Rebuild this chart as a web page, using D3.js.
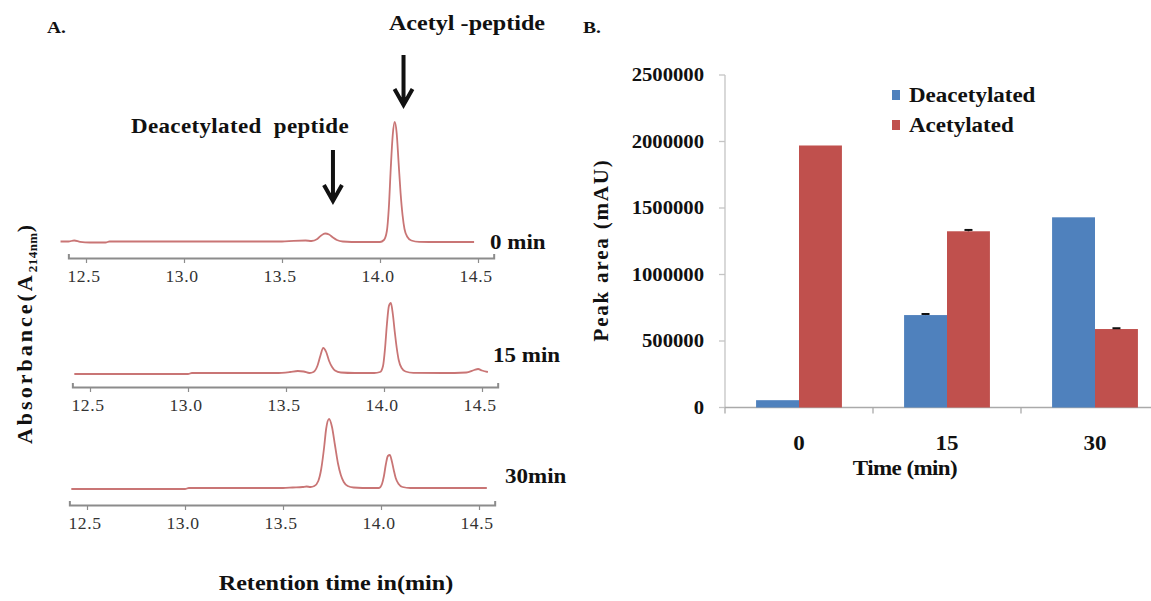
<!DOCTYPE html>
<html>
<head>
<meta charset="utf-8">
<script src="https://cdn.jsdelivr.net/npm/d3@7"></script>
<style>
  body { margin: 0; background: #fff; }
  svg { display: block; }
  text { font-family: "Liberation Serif", "Times New Roman", serif; }
</style>
</head>
<body>
<svg id="fig" width="1151" height="601"></svg>
<script>
// ---------- Panel A: HPLC chromatograms (retention time, absorbance) ----------
const retentionTicks = [12.5, 13.0, 13.5, 14.0, 14.5];
const sampleLabels = ["0 min", "15 min", "30min"];

const trace0min = [
  [12.37, 1.5], [12.41, 1.5], [12.44, 2.5], [12.47, 1.2], [12.52, 0.5], [12.60, 0.5], [12.62, 1.5],
  [13.50, 1.5], [13.56, 2.2], [13.62, 2.5], [13.65, 2], [13.68, 4], [13.70, 7.5], [13.72, 9.5],
  [13.74, 8.5], [13.76, 5.5], [13.78, 3], [13.81, 1.5], [13.90, 1], [14.00, 1], [14.02, 3],
  [14.035, 12], [14.045, 35], [14.055, 75], [14.065, 108], [14.075, 121], [14.085, 110],
  [14.095, 80], [14.105, 50], [14.115, 28], [14.125, 14], [14.14, 6], [14.16, 2.5], [14.20, 1.2],
  [14.30, 1], [14.48, 1]
];
const trace15min = [
  [12.42, 0], [13.00, 0], [13.02, 1], [13.45, 1], [13.52, 2], [13.56, 3], [13.59, 2.5], [13.62, 1],
  [13.64, 2], [13.66, 8], [13.675, 18], [13.69, 26], [13.705, 22], [13.72, 13], [13.735, 7],
  [13.75, 3.5], [13.78, 1.5], [13.85, 1], [13.95, 1], [13.98, 2], [13.995, 8], [14.005, 25],
  [14.015, 50], [14.025, 68], [14.035, 71], [14.045, 60], [14.055, 42], [14.065, 26], [14.075, 14],
  [14.09, 6], [14.11, 2.5], [14.15, 1.2], [14.30, 1], [14.42, 1.5], [14.46, 4], [14.48, 5],
  [14.50, 3.5], [14.53, 2]
];
const trace30min = [
  [12.42, 0], [13.00, 0], [13.02, 1], [13.50, 1], [13.55, 1.5], [13.60, 2], [13.62, 2.5], [13.64, 2],
  [13.66, 3], [13.68, 8], [13.695, 20], [13.71, 42], [13.72, 60], [13.735, 70], [13.75, 62],
  [13.765, 44], [13.78, 26], [13.795, 14], [13.81, 7], [13.83, 3], [13.86, 1.5], [13.95, 1],
  [13.99, 1], [14.005, 5], [14.015, 13], [14.025, 25], [14.035, 33], [14.045, 34], [14.055, 28],
  [14.065, 19], [14.075, 11], [14.09, 5], [14.11, 2], [14.15, 1], [14.54, 1]
];
const peakNotes = ["Deacetylated  peptide", "Acetyl -peptide"];
const peakNoteTimes = [13.76, 14.12];

// ---------- Panel B: peak areas ----------
const timepoints = ["0", "15", "30"];
const seriesNames = ["Deacetylated", "Acetylated"];
const deacetylatedArea = [55000, 695000, 1430000];
const acetylatedArea = [1970000, 1325000, 590000];
const deacetylatedErr = [0, 8000, 0];
const acetylatedErr = [0, 10000, 6000];
const areaTicks = [0, 500000, 1000000, 1500000, 2000000, 2500000];

const svg = d3.select("#fig");
svg.append("rect").attr("width", 1151).attr("height", 601).attr("fill", "#fff");

// text helper: serif glyphs drawn slightly wide
function label(g, s, x, y, o = {}) {
  const t = g.append("text")
    .attr("transform", `translate(${x},${y}) rotate(${o.rot || 0}) scale(${o.sx || 1.15},1)`)
    .attr("text-anchor", o.anchor || "start")
    .attr("font-size", o.size || 20)
    .attr("font-weight", o.weight || "bold")
    .attr("fill", o.fill || "#111")
    .text(s);
  if (o.ls) t.attr("letter-spacing", o.ls);
  return t;
}

// ================= Panel A =================
const gA = svg.append("g");
const traces = [trace0min, trace15min, trace30min];
const panelsA = [
  { base: 243, axisY: 258, x0: 86, lx: 490, ly: 249 },
  { base: 374, axisY: 387, x0: 90, lx: 493, ly: 362 },
  { base: 489, axisY: 505, x0: 87, lx: 505, ly: 483 }
];
const minorTicks = d3.range(124, 146).map(d => d / 10).filter(d => !retentionTicks.includes(d));
let firstX = null;

panelsA.forEach((p, i) => {
  const x = d3.scaleLinear().domain([12.5, 14.5]).range([p.x0, p.x0 + 392]);
  const y = d3.scaleLinear().domain([0, 130]).range([p.base, p.base - 130]);
  if (i === 0) firstX = x;

  const line = d3.line().x(d => x(d[0])).y(d => y(d[1])).curve(d3.curveMonotoneX);
  gA.append("path").datum(traces[i]).attr("d", line)
    .attr("fill", "none").attr("stroke", "#c97575").attr("stroke-width", 1.8);

  const xa = x.copy().domain([12.41, 14.58]).range([x(12.41), x(14.58)]);
  const gAx = gA.append("g").attr("transform", `translate(0,${p.axisY})`);
  gAx.call(d3.axisBottom(xa).tickValues(minorTicks).tickSize(3).tickSizeOuter(-4).tickFormat(""));
  gAx.call(d3.axisBottom(xa).tickValues(retentionTicks).tickSize(5).tickSizeOuter(-4).tickFormat(() => ""));
  gAx.selectAll("path.domain").attr("stroke", "#8c8c8c").attr("stroke-width", 2);
  gAx.selectAll(".tick line").attr("stroke", "#8c8c8c").attr("stroke-width", 1.2);

  retentionTicks.forEach(t => {
    label(gA, d3.format(".1f")(t), x(t) - 2, p.axisY + 24,
      { anchor: "middle", size: 16, weight: "normal", fill: "#333", sx: 1.1, ls: 0.5 });
  });

  label(gA, sampleLabels[i], p.lx, p.ly, { size: 20 });
});

// peak annotations with arrows
const arrowTops = [[150, 201], [55, 105]];
peakNoteTimes.forEach((t, k) => {
  const ax = firstX(t);
  const [y0, y1] = arrowTops[k];
  gA.append("path")
    .attr("d", `M${ax},${y0}V${y1 - 2}M${ax - 9},${y1 - 16}L${ax},${y1}L${ax + 9},${y1 - 16}`)
    .attr("fill", "none").attr("stroke", "#111").attr("stroke-width", 4)
    .attr("stroke-linejoin", "miter");
});
label(gA, peakNotes[0], 240, 133, { anchor: "middle", size: 20, ls: 0.3 }).style("white-space", "pre");
label(gA, peakNotes[1], 467, 30, { anchor: "middle", size: 21 });

label(gA, "A.", 47, 33, { size: 17 });

// y axis title with subscript
const yt = gA.append("text")
  .attr("transform", "translate(32,333) rotate(-90)")
  .attr("text-anchor", "middle").attr("font-size", 22).attr("font-weight", "bold")
  .attr("fill", "#111").attr("letter-spacing", 3);
yt.append("tspan").text("Absorbance(A");
yt.append("tspan").text("214nm").attr("font-size", 13).attr("letter-spacing", 0.5).attr("dy", 5);
yt.append("tspan").text(")").attr("dy", -5);

label(gA, "Retention time in(min)", 336, 590, { anchor: "middle", size: 21 });

// ================= Panel B =================
const gB = svg.append("g");
const yB = d3.scaleLinear().domain([0, 2500000]).range([407.5, 75]);
const x0 = d3.scaleBand().domain(timepoints).range([725, 1169]).paddingInner(0.42).paddingOuter(0.21);
const x1 = d3.scaleBand().domain(seriesNames).range([0, x0.bandwidth()]);
const colors = d3.scaleOrdinal().domain(seriesNames).range(["#4f81bd", "#c0504d"]);

const rows = timepoints.map((t, i) => ({
  t,
  vals: [
    { s: seriesNames[0], v: deacetylatedArea[i], e: deacetylatedErr[i] },
    { s: seriesNames[1], v: acetylatedArea[i], e: acetylatedErr[i] }
  ]
}));

// axes
gB.append("line").attr("x1", 725).attr("x2", 725).attr("y1", yB(2500000)).attr("y2", yB(0))
  .attr("stroke", "#c4c4c4").attr("stroke-width", 1.3);
areaTicks.forEach(v => {
  gB.append("line").attr("x1", 719).attr("x2", 725).attr("y1", yB(v)).attr("y2", yB(v))
    .attr("stroke", "#c4c4c4").attr("stroke-width", 1.3);
  label(gB, String(v), 704, yB(v) + 6, { anchor: "end", size: 18 });
});

const gap = (x0.step() - x0.bandwidth()) / 2;
gB.append("line").attr("x1", 725).attr("x2", 1151).attr("y1", yB(0)).attr("y2", yB(0))
  .attr("stroke", "#aaaaaa").attr("stroke-width", 1.3);
timepoints.forEach(t => {
  const bx = x0(t) - gap;
  gB.append("line").attr("x1", bx).attr("x2", bx).attr("y1", yB(0)).attr("y2", yB(0) + 6)
    .attr("stroke", "#aaaaaa").attr("stroke-width", 1.3);
  label(gB, t, x0(t) + x0.bandwidth() / 2, 450, { anchor: "middle", size: 20 });
});

// bars
const grp = gB.selectAll("g.grp").data(rows).join("g").attr("class", "grp")
  .attr("transform", d => `translate(${x0(d.t)},0)`);
grp.selectAll("rect").data(d => d.vals).join("rect")
  .attr("x", d => x1(d.s)).attr("width", x1.bandwidth())
  .attr("y", d => yB(d.v)).attr("height", d => yB(0) - yB(d.v))
  .attr("fill", d => colors(d.s));

// error bars
grp.selectAll("g.err").data(d => d.vals.filter(v => v.e > 0)).join("g").attr("class", "err")
  .each(function (d) {
    const cx = x1(d.s) + x1.bandwidth() / 2;
    const g = d3.select(this);
    g.append("line").attr("x1", cx).attr("x2", cx).attr("y1", yB(d.v + d.e)).attr("y2", yB(d.v))
      .attr("stroke", "#111").attr("stroke-width", 1.5);
    g.append("line").attr("x1", cx - 4).attr("x2", cx + 4).attr("y1", yB(d.v + d.e)).attr("y2", yB(d.v + d.e))
      .attr("stroke", "#111").attr("stroke-width", 2);
  });

// legend
seriesNames.forEach((s, i) => {
  const ly = 90 + i * 30;
  gB.append("rect").attr("x", 892).attr("y", ly).attr("width", 8).attr("height", 10).attr("fill", colors(s));
  label(gB, s, 909, ly + 12, { size: 20 });
});

label(gB, "Time (min)", 905, 475, { anchor: "middle", size: 20, ls: -0.5 });
label(gB, "Peak area (mAU)", 608, 250, { anchor: "middle", size: 21, rot: -90, sx: 1, ls: 1.8 });
label(gB, "B.", 583, 33, { size: 17 });
</script>
</body>
</html>
